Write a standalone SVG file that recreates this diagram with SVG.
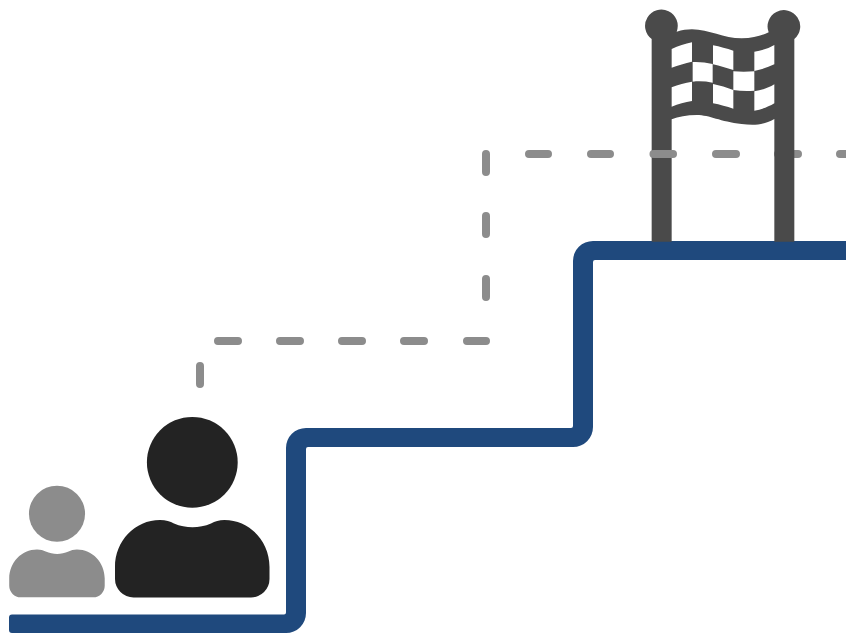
<svg xmlns="http://www.w3.org/2000/svg" width="846" height="633" viewBox="0 0 846 633">
<style>
.dash{fill:none;stroke:#8c8c8c;stroke-width:8;stroke-linecap:round}
.flag{fill:#4a4a4a}
.dark{fill:#232323}
.grey{fill:#8c8c8c}
</style>
<defs>
<g id="person">
<circle cx="192.3" cy="462.3" r="45.4"/>
<path d="M115 567C115 541 135 520 160 520C166 520 170 521.500 174 523.500C186 528.500 199 528.500 211 523.500C215 521.500 219 520 224.500 520C249.500 520 269.500 541 269.500 567V579A18.500 18.500 0 0 1 251 597.500H133.500A18.500 18.500 0 0 1 115 579Z"/>
</g>
</defs>
<rect width="846" height="633" fill="#fff"/>
<g id="connectors">
<path id="route-behind" class="dash" d="M200 366V384M218 341H238M280 341H300M342 341H362M404 341H424M467 341H486M486 297V279M486 234V216M486 172V154M529 154H548M591 154H610M716 154H736M778 154H798M840 154H850"/>
</g>
<g id="stairs">
<path fill="#1f497d" d="M12 614.500H284a2 2 0 0 0 2-2V448a20 20 0 0 1 20-20H571a2 2 0 0 0 2-2V261a20 20 0 0 1 20-20H846V260H595a2 2 0 0 0-2 2V427a20 20 0 0 1-20 20H308a2 2 0 0 0-2 2V613a20 20 0 0 1-20 20H12a3 3 0 0 1-3-3V617.500a3 3 0 0 1 3-3Z"/>
</g>
<g id="flag">
<path class="flag" fill-rule="evenodd" transform="translate(630 0) scale(.33333)" d="M65 725V117A49 49 0 1 1 140 95C215 70 265 115 335 115C370 115 395 107 416 97A49 49 0 1 1 493 117V725H433V357C395 378 365 375 335 372C270 365 240 345 200 345C170 345 145 350 125 358V725ZM125 147V203C145 195 165 190 186 185V127C165 132 145 138 125 147ZM249 136V193C270 197 290 205 310 210V152C290 146 270 140 249 136ZM373 155V213C395 208 415 202 433 193V135C415 145 395 152 373 155ZM188 186V245C208 243 228 244 248 248V192C228 187 208 185 188 186ZM310 214V270C330 273 352 274 373 272V214C352 216 330 216 310 214ZM125 262V320C145 312 165 307 186 303V245C165 249 145 254 125 262ZM249 252V310C270 314 290 320 310 326V270C290 262 270 256 249 252ZM373 274V332C395 328 415 321 433 310V253C415 264 395 271 373 274Z"/>
</g>
<g id="connectors-front">
<path class="dash" d="M653.500 154H673"/>
</g>
<g id="person-small" class="grey">
<use href="#person" transform="translate(-61.84 228.05) scale(.618)"/>
</g>
<g id="person-large" class="dark">
<use href="#person"/>
</g>
</svg>
